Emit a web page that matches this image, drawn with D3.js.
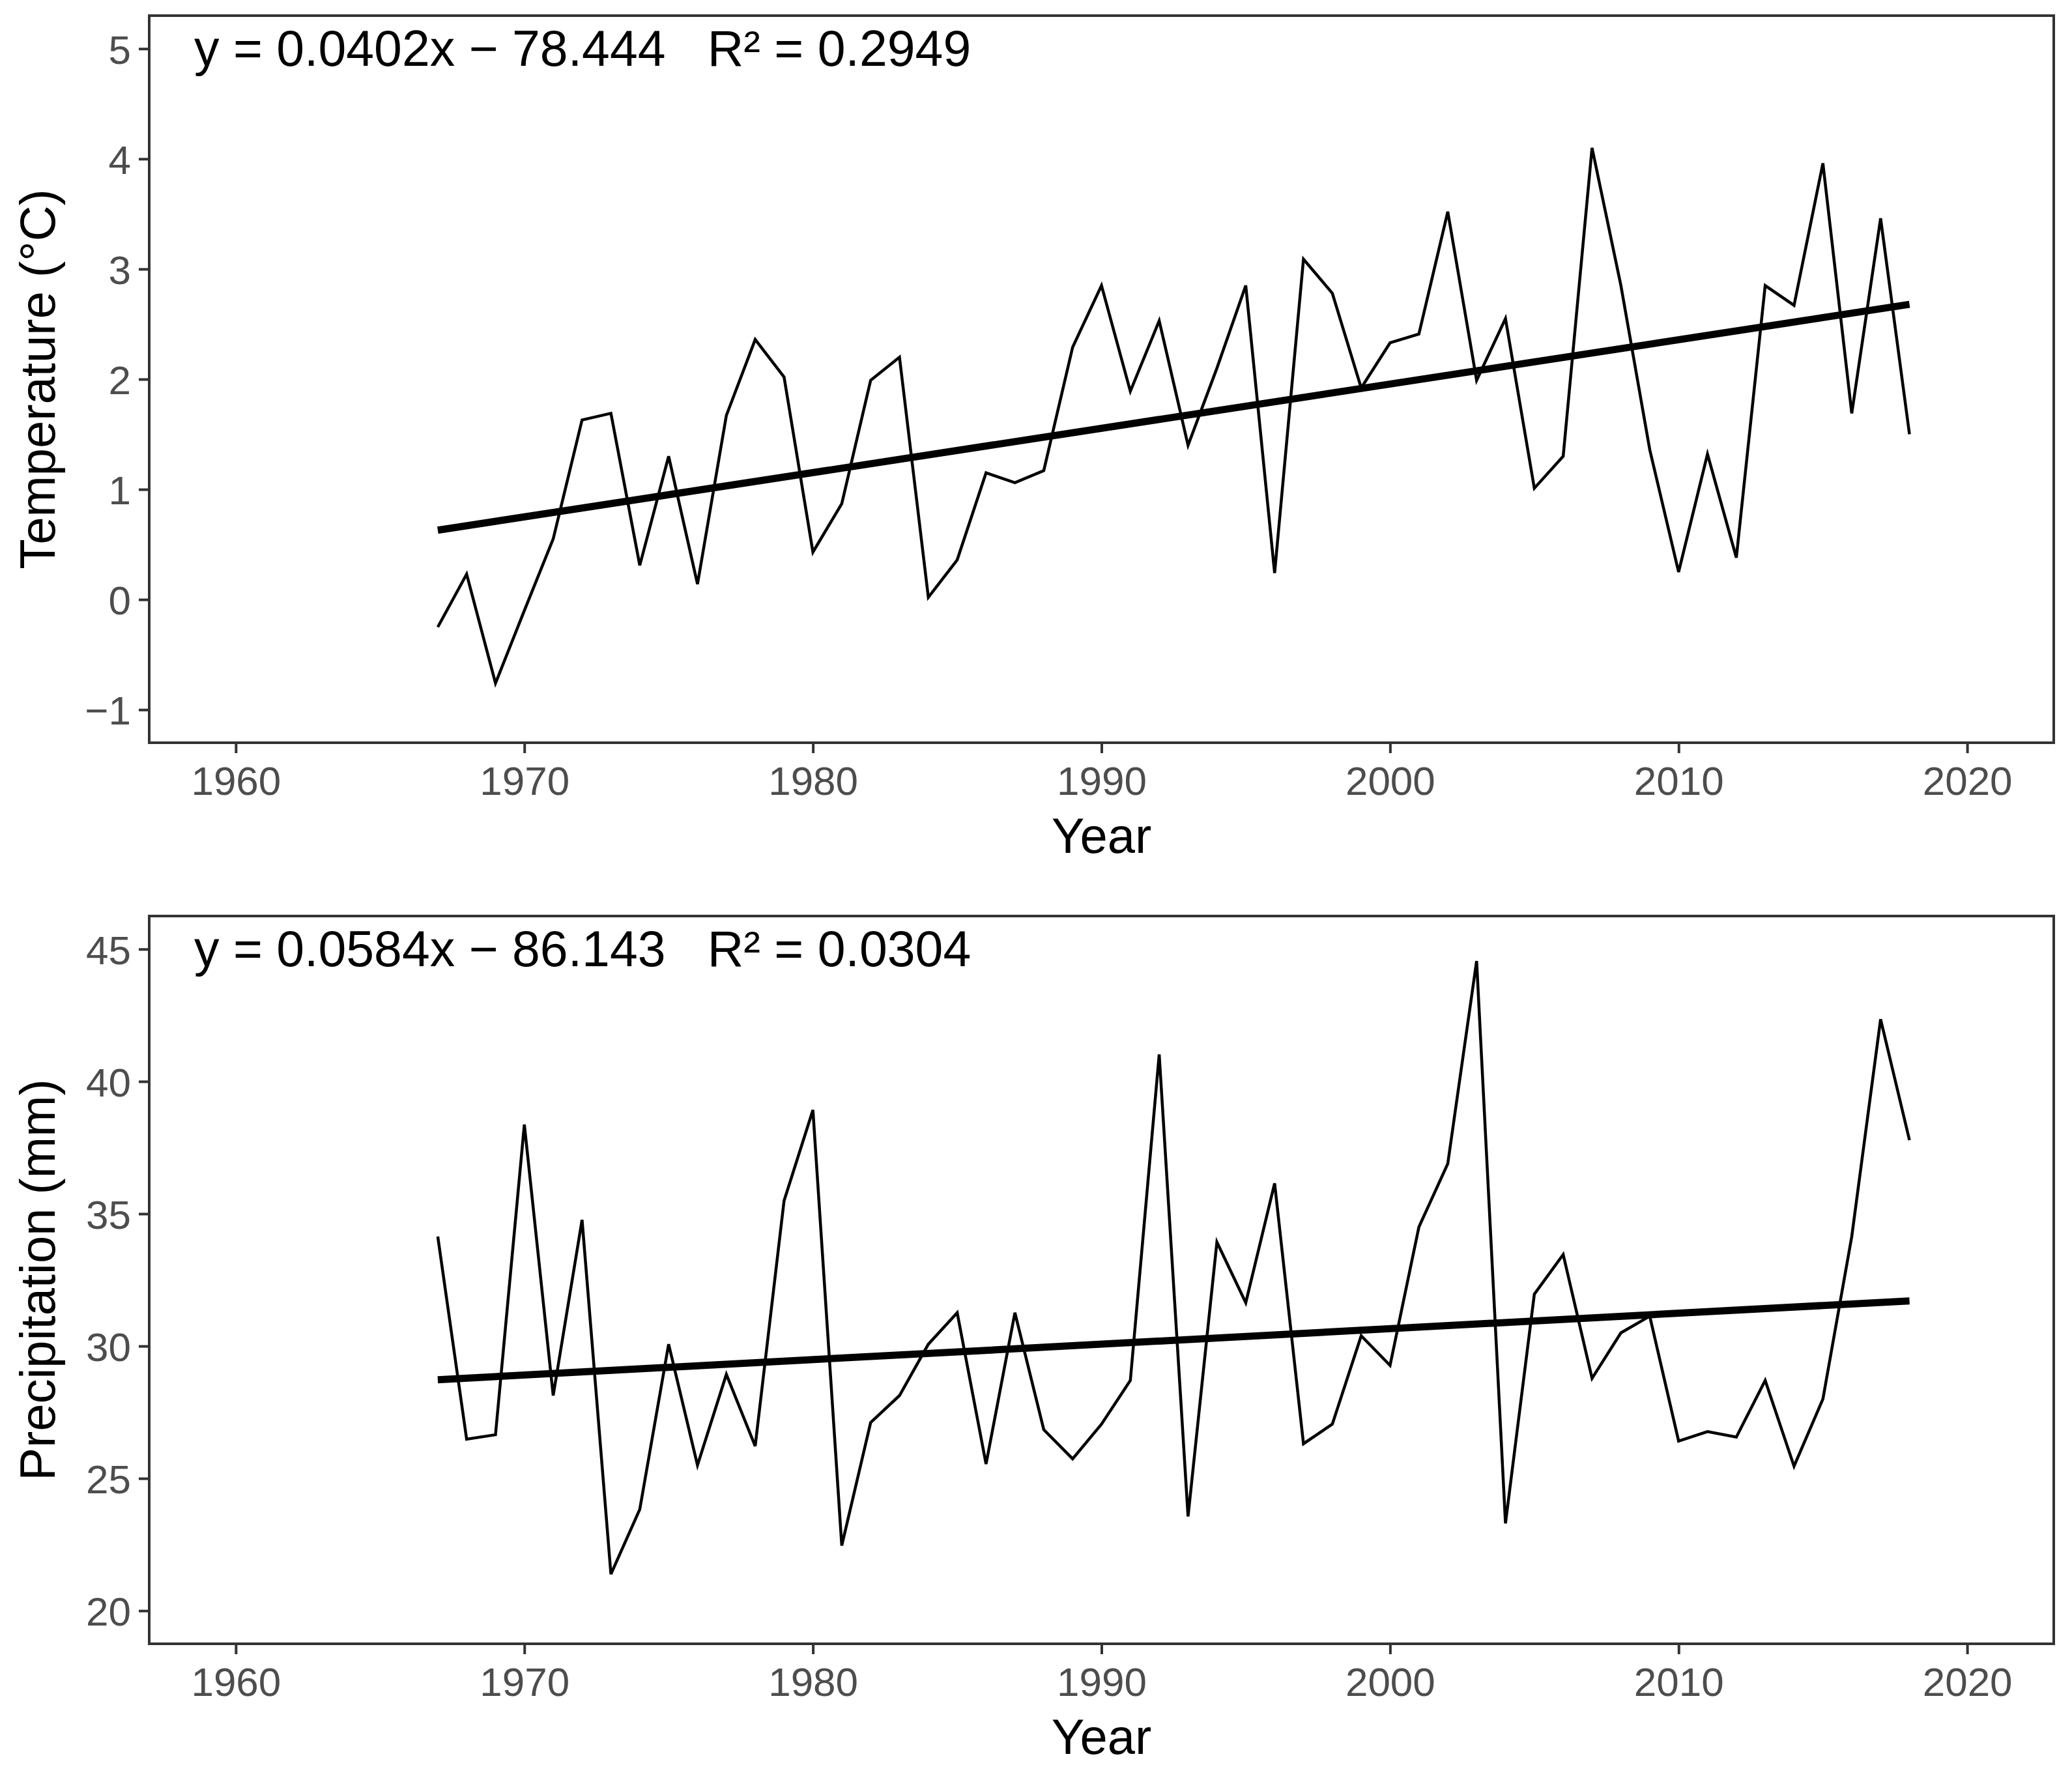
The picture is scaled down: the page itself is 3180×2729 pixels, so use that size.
<!DOCTYPE html>
<html>
<head>
<meta charset="utf-8">
<script src="https://cdn.jsdelivr.net/npm/d3@7/dist/d3.min.js"></script>
<style>
  body { margin: 0; background: #fff; }
  svg text { font-family: "Liberation Sans", Arial, sans-serif; }
</style>
</head>
<body>
<div id="chart"></div>
<script>
// years of the record
const years = [
  1967, 1968, 1969, 1970, 1971, 1972, 1973, 1974, 1975, 1976,
  1977, 1978, 1979, 1980, 1981, 1982, 1983, 1984, 1985, 1986,
  1987, 1988, 1989, 1990, 1991, 1992, 1993, 1994, 1995, 1996,
  1997, 1998, 1999, 2000, 2001, 2002, 2003, 2004, 2005, 2006,
  2007, 2008, 2009, 2010, 2011, 2012, 2013, 2014, 2015, 2016,
  2017, 2018
];

// temperature (°C)
const temperature = [
  -0.25, 0.23, -0.76, -0.10, 0.55, 1.63, 1.69, 0.31, 1.30, 0.14,
  1.67, 2.36, 2.02, 0.43, 0.87, 1.99, 2.20, 0.02, 0.36, 1.15,
  1.06, 1.17, 2.29, 2.85, 1.89, 2.53, 1.40, 2.10, 2.85, 0.24,
  3.09, 2.78, 1.92, 2.33, 2.41, 3.52, 1.99, 2.55, 1.01, 1.30,
  4.10, 2.85, 1.36, 0.25, 1.32, 0.38, 2.85, 2.67, 3.96, 1.69,
  3.46, 1.50
];

// precipitation (mm)
const precipitation = [
  34.14, 26.48, 26.65, 38.37, 28.13, 34.77, 21.38, 23.83, 30.07, 25.50,
  28.93, 26.22, 35.49, 38.92, 22.46, 27.11, 28.13, 30.07, 31.26, 25.54,
  31.26, 26.84, 25.74, 27.05, 28.70, 41.02, 23.56, 33.93, 31.64, 36.15,
  26.31, 27.05, 30.39, 29.27, 34.50, 36.89, 44.55, 23.30, 31.96, 33.46,
  28.78, 30.50, 31.13, 26.41, 26.77, 26.56, 28.70, 25.46, 28.00, 34.14,
  42.35, 37.78
];

// linear fits as printed on the chart
const slopes = [0.0402, 0.0584];
const intercepts = [-78.444, -86.143];
const equations = [
  "y = 0.0402x \u2212 78.444   R\u00b2 = 0.2949",
  "y = 0.0584x \u2212 86.143   R\u00b2 = 0.0304"
];

// axis ticks and titles
const yearTicks = [1960, 1970, 1980, 1990, 2000, 2010, 2020];
const tempTicks = [-1, 0, 1, 2, 3, 4, 5];
const precipTicks = [20, 25, 30, 35, 40, 45];
const yTitles = ["Temperature (\u00b0C)", "Precipitation (mm)"];
const xTitle = "Year";

const W = 3180, H = 2729;
const svg = d3.select("#chart").append("svg")
  .attr("width", W)
  .attr("height", H);

// panel boxes in pixels
const left = 229, right = 3152;
const panels = [
  { top: 24, bottom: 1140, values: temperature, ticks: tempTicks, domain: [-1.3, 5.3] },
  { top: 1406, bottom: 2523, values: precipitation, ticks: precipTicks, domain: [18.75, 46.25] }
];

const x = d3.scaleLinear().domain([1957, 2023]).range([left, right]);

panels.forEach((p, i) => {
  const y = d3.scaleLinear().domain(p.domain).range([p.bottom, p.top]);
  const g = svg.append("g");

  // x axis
  const xAxis = g.append("g")
    .attr("transform", `translate(0,${p.bottom})`)
    .call(d3.axisBottom(x).tickValues(yearTicks).tickFormat(d3.format("d"))
      .tickSizeInner(16).tickSizeOuter(0).tickPadding(20));
  xAxis.select(".domain").remove();

  // y axis
  const yAxis = g.append("g")
    .attr("transform", `translate(${left},0)`)
    .call(d3.axisLeft(y).tickValues(p.ticks).tickFormat(d => d < 0 ? "\u2212" + Math.abs(d) : d)
      .tickSizeInner(16).tickSizeOuter(0).tickPadding(12));
  yAxis.select(".domain").remove();

  g.selectAll(".tick line").attr("stroke", "#333").attr("stroke-width", 4);
  g.selectAll(".tick text")
    .attr("fill", "#4d4d4d")
    .attr("font-size", 62)
    .attr("font-family", "Liberation Sans, Arial, sans-serif");
  yAxis.selectAll(".tick text").attr("dy", "0.36em");

  // data line
  const line = d3.line()
    .x((d, j) => x(years[j]))
    .y(d => y(d));
  g.append("path")
    .datum(p.values)
    .attr("fill", "none")
    .attr("stroke", "#000")
    .attr("stroke-width", 4.5)
    .attr("stroke-linejoin", "miter")
    .attr("d", line);

  // trend line from the printed equation
  const x0 = years[0], x1 = years[years.length - 1];
  g.append("line")
    .attr("x1", x(x0)).attr("y1", y(slopes[i] * x0 + intercepts[i]))
    .attr("x2", x(x1)).attr("y2", y(slopes[i] * x1 + intercepts[i]))
    .attr("stroke", "#000")
    .attr("stroke-width", 11);

  // panel border
  g.append("rect")
    .attr("x", left).attr("y", p.top)
    .attr("width", right - left).attr("height", p.bottom - p.top)
    .attr("fill", "none")
    .attr("stroke", "#333")
    .attr("stroke-width", 4);

  // equation label
  g.append("text")
    .attr("x", 298)
    .attr("y", p.top + 77)
    .attr("font-size", 77)
    .attr("fill", "#000")
    .style("white-space", "pre")
    .text(equations[i]);

  // axis titles
  g.append("text")
    .attr("x", (left + right) / 2)
    .attr("y", p.bottom + 169)
    .attr("text-anchor", "middle")
    .attr("font-size", 76)
    .attr("fill", "#000")
    .text(xTitle);

  g.append("text")
    .attr("transform", `translate(84,${(p.top + p.bottom) / 2}) rotate(-90)`)
    .attr("text-anchor", "middle")
    .attr("font-size", 76)
    .attr("fill", "#000")
    .text(yTitles[i]);
});
</script>
</body>
</html>
